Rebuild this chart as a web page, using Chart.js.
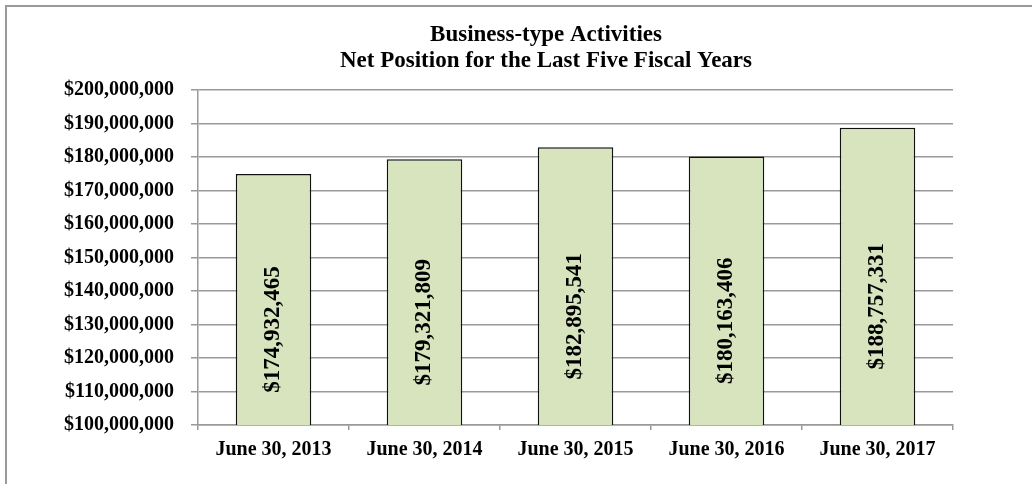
<!DOCTYPE html>
<html>
<head>
<meta charset="utf-8">
<script src="https://cdn.jsdelivr.net/npm/chart.js@4/dist/chart.umd.min.js"></script>
<style>
    html, body { margin: 0; padding: 0; background: #fff; overflow: hidden; }
    #frame {
        position: absolute;
        left: 5px;
        top: 5px;
        border-left: 2px solid #9a9a9a;
        border-top: 2px solid #9a9a9a;
    }
    #chart { display: block; }
</style>
</head>
<body>
<div id="frame">
    <canvas id="chart" width="1078" height="520"></canvas>
</div>
<script>
const years = ['June 30, 2013', 'June 30, 2014', 'June 30, 2015', 'June 30, 2016', 'June 30, 2017'];
const netPosition = [174932465, 179321809, 182895541, 180163406, 188757331];
const titleLines = ['Business-type Activities', 'Net Position for the Last Five Fiscal Years'];

const SERIF = '"Liberation Serif", "Times New Roman", serif';
const money = v => '$' + Math.round(v).toLocaleString('en-US');

// 제목은 차트 전체 폭의 가운데에 그림 (플롯 영역 기준 아님)
const centeredTitle = {
    id: 'centeredTitle',
    afterDraw(chart) {
        const { ctx } = chart;
        ctx.save();
        ctx.font = 'bold 23px ' + SERIF;
        ctx.fillStyle = '#000';
        ctx.textAlign = 'center';
        ctx.textBaseline = 'alphabetic';
        titleLines.forEach((line, i) => {
            ctx.fillText(line, chart.width / 2, 34 + i * 26);
        });
        ctx.restore();
    }
};

// 막대 안쪽에 세로로 금액 표시
const barValueLabels = {
    id: 'barValueLabels',
    afterDatasetsDraw(chart) {
        const { ctx, chartArea } = chart;
        const meta = chart.getDatasetMeta(0);
        ctx.save();
        ctx.font = 'bold 23px ' + SERIF;
        ctx.fillStyle = '#000';
        ctx.textAlign = 'center';
        ctx.textBaseline = 'middle';
        meta.data.forEach((bar, i) => {
            // 축 최소값이 0이 아니라서 base가 플롯 밖으로 나감 -> 아래 경계로 자름
            const base = Math.min(bar.base, chartArea.bottom);
            const cy = (bar.y + base) / 2 + 30;
            ctx.save();
            ctx.translate(bar.x, cy);
            ctx.rotate(-Math.PI / 2);
            ctx.fillText(money(chart.data.datasets[0].data[i]), 0, 0);
            ctx.restore();
        });
        ctx.restore();
    }
};

Chart.defaults.color = '#000';

new Chart(document.getElementById('chart'), {
    type: 'bar',
    data: {
        labels: years,
        datasets: [{
            data: netPosition,
            backgroundColor: '#d7e4bd',
            borderColor: '#111',
            borderWidth: 1.5,
            barPercentage: 0.5,
            categoryPercentage: 1,
        }],
    },
    options: {
        responsive: false,
        animation: false,
        layout: {
            padding: { left: 0, right: 132, top: 83, bottom: 42 },
        },
        plugins: {
            legend: { display: false },
            tooltip: { enabled: false },
            title: { display: false },
        },
        scales: {
            x: {
                grid: {
                    drawOnChartArea: false,
                    drawTicks: true,
                    tickLength: 5,
                    color: '#999',
                    lineWidth: 1.5,
                },
                border: { color: '#999', width: 1.5 },
                ticks: {
                    font: { family: SERIF, size: 20, weight: 'bold' },
                    padding: 8,
                    maxRotation: 0,
                },
                afterFit(scale) { scale.height = 60; },
            },
            y: {
                min: 100000000,
                max: 200000000,
                grid: {
                    color: '#999',
                    lineWidth: 1.5,
                    tickLength: 7,
                },
                border: { color: '#999', width: 1.5 },
                ticks: {
                    stepSize: 10000000,
                    font: { family: SERIF, size: 20, weight: 'bold' },
                    padding: 17,
                    callback: v => money(v),
                },
                afterFit(scale) { scale.width = 191; },
            },
        },
    },
    plugins: [barValueLabels, centeredTitle],
});
</script>
</body>
</html>
